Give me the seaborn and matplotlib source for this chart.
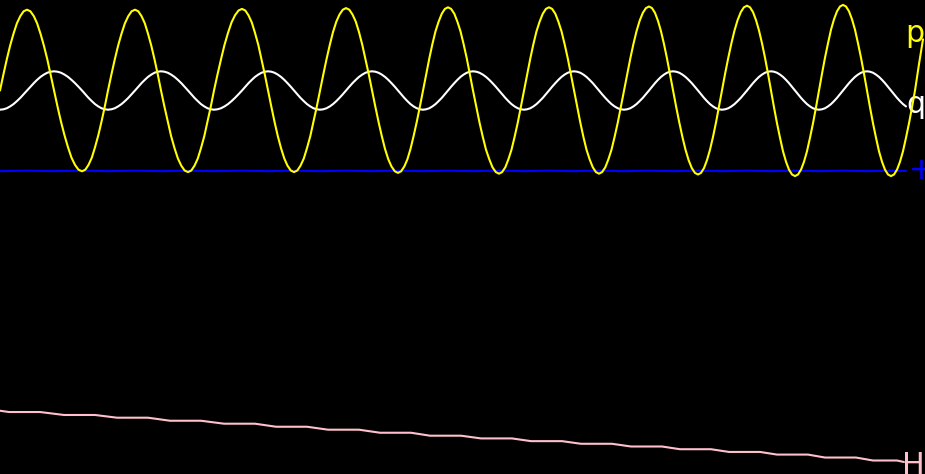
import matplotlib
matplotlib.use("Agg")
import matplotlib.pyplot as plt
import seaborn as sns
import pandas as pd

# ---- data (time axis and series values) ----
t = [0, 3.4, 6.8, 10.1, 13.5, 16.9, 20.3, 23.6,
     27, 30.4, 33.8, 37.1, 40.5, 43.9, 47.3, 50.6,
     54, 57.5, 61, 64.5, 68, 71.5, 75, 78.5,
     82, 85.3, 88.5, 91.8, 95, 98.3, 101.5, 104.8,
     108, 111.4, 114.8, 118.1, 121.5, 124.9, 128.3, 131.6,
     135, 138.3, 141.5, 144.8, 148, 151.3, 154.5, 157.8,
     161, 164.4, 167.8, 171.1, 174.5, 177.9, 181.3, 184.6,
     188, 191.3, 194.5, 197.8, 201, 204.3, 207.5, 210.8,
     214, 217.5, 221, 224.5, 228, 231.5, 235, 238.5,
     242, 245.3, 248.5, 251.8, 255, 258.3, 261.5, 264.8,
     268, 271.3, 274.5, 277.8, 281, 284.3, 287.5, 290.8,
     294, 297.3, 300.5, 303.8, 307, 310.3, 313.5, 316.8,
     320, 323.3, 326.5, 329.8, 333, 336.3, 339.5, 342.8,
     346, 349.3, 352.5, 355.8, 359, 362.3, 365.5, 368.8,
     372, 375.3, 378.5, 381.8, 385, 388.3, 391.5, 394.8,
     398, 401.1, 404.3, 407.4, 410.5, 413.6, 416.8, 419.9,
     423, 426.1, 429.3, 432.4, 435.5, 438.6, 441.8, 444.9,
     448, 451.1, 454.3, 457.4, 460.5, 463.6, 466.8, 469.9,
     473, 476.3, 479.5, 482.8, 486, 489.3, 492.5, 495.8,
     499, 502.1, 505.3, 508.4, 511.5, 514.6, 517.8, 520.9,
     524, 527.1, 530.3, 533.4, 536.5, 539.6, 542.8, 545.9,
     549, 552.1, 555.3, 558.4, 561.5, 564.6, 567.8, 570.9,
     574, 577.1, 580.3, 583.4, 586.5, 589.6, 592.8, 595.9,
     599, 602.1, 605.3, 608.4, 611.5, 614.6, 617.8, 620.9,
     624, 627.1, 630.3, 633.4, 636.5, 639.6, 642.8, 645.9,
     649, 652, 655, 658, 661, 664, 667, 670,
     673, 676.1, 679.3, 682.4, 685.5, 688.6, 691.8, 694.9,
     698, 701, 704, 707, 710, 713, 716, 719,
     722, 725.1, 728.3, 731.4, 734.5, 737.6, 740.8, 743.9,
     747, 750, 753, 756, 759, 762, 765, 768,
     771, 774, 777, 780, 783, 786, 789, 792,
     795, 798, 801, 804, 807, 810, 813, 816,
     819, 822, 825, 828, 831, 834, 837, 840,
     843, 846, 849, 852, 855, 858, 861, 864,
     867, 870, 873, 876, 879, 882, 885, 888,
     891, 894, 897, 900, 903, 906, 909, 912,
     915]

p_t = t + [919, 923]
p = [0, .20, .39, .56, .71, .84, .93, .99, 1.01, .99, .93, .84, .71, .56, .39, .20,
     0, -.20, -.39, -.56, -.71, -.84, -.93, -.99, -1.01, -.99, -.93, -.84, -.71, -.56, -.39, -.20,
     0, .20, .39, .56, .71, .84, .93, .99, 1.01, .99, .93, .84, .71, .56, .39, .20,
     0, -.20, -.39, -.57, -.72, -.85, -.94, -1.00, -1.02, -1.00, -.94, -.85, -.72, -.57, -.39, -.20,
     0, .20, .39, .57, .72, .85, .94, 1.00, 1.02, 1.00, .94, .85, .72, .57, .39, .20,
     0, -.20, -.39, -.57, -.72, -.85, -.94, -1.00, -1.02, -1.00, -.94, -.85, -.72, -.57, -.39, -.20,
     0, .20, .39, .57, .73, .86, .95, 1.01, 1.03, 1.01, .95, .86, .73, .57, .39, .20,
     0, -.20, -.39, -.57, -.73, -.86, -.95, -1.01, -1.03, -1.01, -.95, -.86, -.73, -.57, -.39, -.20,
     0, .20, .40, .58, .74, .86, .96, 1.02, 1.04, 1.02, .96, .86, .74, .58, .40, .20,
     0, -.20, -.40, -.58, -.74, -.86, -.96, -1.02, -1.04, -1.02, -.96, -.86, -.74, -.58, -.40, -.20,
     0, .20, .40, .58, .74, .86, .96, 1.02, 1.04, 1.02, .96, .86, .74, .58, .40, .20,
     0, -.20, -.40, -.58, -.74, -.86, -.96, -1.02, -1.04, -1.02, -.96, -.86, -.74, -.58, -.40, -.20,
     0, .20, .40, .58, .74, .87, .97, 1.03, 1.05, 1.03, .97, .87, .74, .58, .40, .20,
     0, -.20, -.40, -.58, -.74, -.87, -.97, -1.03, -1.05, -1.03, -.97, -.87, -.74, -.58, -.40, -.20,
     0, .21, .41, .59, .75, .88, .98, 1.04, 1.06, 1.04, .98, .88, .75, .59, .41, .21,
     0, -.21, -.41, -.59, -.76, -.89, -.99, -1.05, -1.07, -1.05, -.99, -.89, -.76, -.59, -.41, -.21,
     0, .21, .41, .59, .76, .89, .99, 1.05, 1.07, 1.05, .99, .89, .76, .59, .41, .21,
     0, -.21, -.41, -.59, -.76, -.89, -.99, -1.05, -1.07, -1.05, -.99, -.89, -.76, -.59, -.41, -.21,
     0, .33, .64]

q_t = t[:286]
q = [-.24, -.235, -.222, -.199, -.170, -.133, -.092, -.047, 0, .047, .092, .133, .170, .199, .222, .235,
     .24, .235, .222, .199, .170, .133, .092, .047, 0, -.047, -.092, -.133, -.170, -.199, -.222, -.235,
     -.24, -.235, -.222, -.199, -.170, -.133, -.092, -.047, 0, .047, .092, .133, .170, .199, .222, .235,
     .24, .235, .222, .199, .170, .133, .092, .047, 0, -.047, -.092, -.133, -.170, -.199, -.222, -.235,
     -.24, -.235, -.222, -.199, -.170, -.133, -.092, -.047, 0, .047, .092, .133, .170, .199, .222, .235,
     .24, .235, .222, .199, .170, .133, .092, .047, 0, -.047, -.092, -.133, -.170, -.199, -.222, -.235,
     -.24, -.235, -.222, -.199, -.170, -.133, -.092, -.047, 0, .047, .092, .133, .170, .199, .222, .235,
     .24, .235, .222, .199, .170, .133, .092, .047, 0, -.047, -.092, -.133, -.170, -.199, -.222, -.235,
     -.24, -.235, -.222, -.199, -.170, -.133, -.092, -.047, 0, .047, .092, .133, .170, .199, .222, .235,
     .24, .235, .222, .199, .170, .133, .092, .047, 0, -.047, -.092, -.133, -.170, -.199, -.222, -.235,
     -.24, -.235, -.222, -.199, -.170, -.133, -.092, -.047, 0, .047, .092, .133, .170, .199, .222, .235,
     .24, .235, .222, .199, .170, .133, .092, .047, 0, -.047, -.092, -.133, -.170, -.199, -.222, -.235,
     -.24, -.235, -.222, -.199, -.170, -.133, -.092, -.047, 0, .047, .092, .133, .170, .199, .222, .235,
     .24, .235, .222, .199, .170, .133, .092, .047, 0, -.047, -.092, -.133, -.170, -.199, -.222, -.235,
     -.24, -.235, -.222, -.199, -.170, -.133, -.092, -.047, 0, .047, .092, .133, .170, .199, .222, .235,
     .24, .235, .222, .199, .170, .133, .092, .047, 0, -.047, -.092, -.133, -.170, -.199, -.222, -.235,
     -.24, -.235, -.222, -.199, -.170, -.133, -.092, -.047, 0, .047, .092, .133, .170, .199, .222, .235,
     .24, .235, .222, .199, .170, .133, .092, .047, 0, -.047, -.092, -.133, -.170, -.199]

b_t = [0, 27, 54, 82, 108, 135, 161, 188, 214, 242, 268, 294, 320, 346, 372, 398,
       423, 448, 473, 499, 524, 549, 574, 599, 624, 649, 673, 698, 722, 747, 771,
       795, 819, 843, 867, 891, 906]
b = [-1.008, -1.002, -1.008, -1.002, -1.008, -1.002, -1.008, -1.002, -1.008,
     -1.002, -1.008, -1.002, -1.008, -1.002, -1.008, -1.002, -1.008, -1.002,
     -1.008, -1.002, -1.008, -1.002, -1.008, -1.002, -1.008, -1.002, -1.008,
     -1.002, -1.008, -1.002, -1.008, -1.002, -1.008, -1.002, -1.008, -1.002, -1.006]

h_t = [0, 9, 40, 64, 95, 117, 148, 170, 201, 224, 255, 276, 307, 328, 359, 380,
       411, 430, 461, 481, 512, 531, 562, 581, 612, 631, 662, 680, 711, 729, 760,
       777, 808, 825, 856, 873, 897, 904]
H = [-4.003, -4.019, -4.019, -4.056, -4.056, -4.090, -4.090, -4.128, -4.128,
     -4.165, -4.165, -4.203, -4.203, -4.240, -4.240, -4.278, -4.278, -4.315,
     -4.315, -4.349, -4.349, -4.383, -4.383, -4.416, -4.416, -4.450, -4.450,
     -4.484, -4.484, -4.518, -4.518, -4.551, -4.551, -4.588, -4.588, -4.625,
     -4.625, -4.644]

labels = ["p", "q", "+", "H"]

# ---- figure ----
sns.set_style("dark")
plt.rcParams["font.family"] = ["DejaVu Sans"]

fig = plt.figure(figsize=(9.25, 4.74), dpi=100, facecolor="black")
ax = fig.add_axes([0, 0, 1, 1])
ax.set_facecolor("black")

n_p = min(len(p_t), len(p))
n_q = min(len(q_t), len(q))
series = [
    (q_t[:n_q], q[:n_q], "white", 2),
    (p_t[:n_p], p[:n_p], "#ffff00", 5),
    (b_t, b, "#0000ff", 4),
    (h_t, H, "#ffc0cb", 4),
]
for xs, ys, col, z in series:
    df = pd.DataFrame({"t": xs, "v": ys})
    sns.lineplot(data=df, x="t", y="v", ax=ax, color=col, linewidth=1.5,
                 sort=False, estimator=None, zorder=z, legend=False)

ax.set_xlim(0, 925)
ax.set_ylim(-4.79375, 1.13125)
ax.set_axis_off()

# end labels (x origin in data units, vertical nudge in points)
label_specs = [
    (labels[0], p[n_p - 1], "#ffff00", 905.3, 4.4),
    (labels[1], q[n_q - 1], "white", 906.3, 1.2),
    (labels[2], b[-1], "#0000ff", 908.4, 0.2),
    (labels[3], H[-1], "#ffc0cb", 902.0, -2.2),
]
for txt, yv, col, xo, dy in label_specs:
    ax.annotate(txt, xy=(xo, yv), xytext=(0, dy), textcoords="offset points",
                ha="left", va="center", fontsize=21.6, color=col, zorder=3,
                annotation_clip=False)

fig.savefig("out.png", dpi=100, facecolor="black")
